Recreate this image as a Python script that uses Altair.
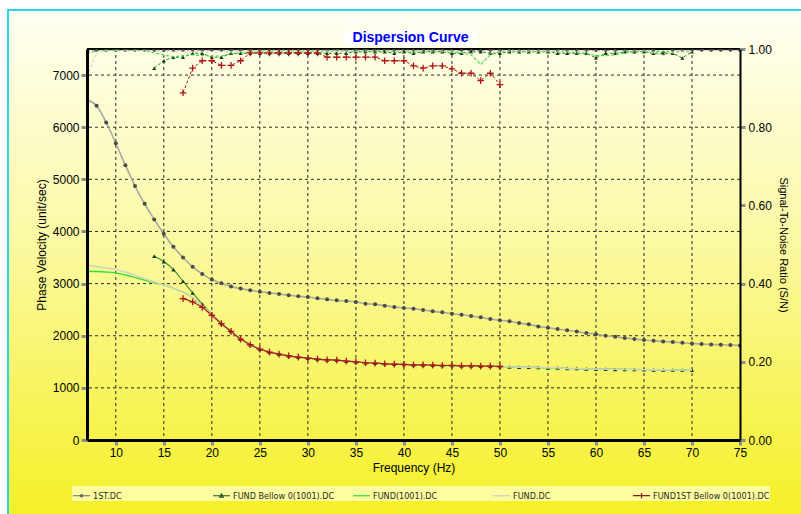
import altair as alt
import pandas as pd

# ---------------- data ----------------
SERIES = [
    "1ST.DC",
    "FUND Bellow 0(1001).DC",
    "FUND(1001).DC",
    "FUND.DC",
    "FUND1ST Bellow 0(1001).DC",
]

# 1ST.DC : 7 .. 75 Hz
FREQ_1ST = list(range(7, 76))
VEL_1ST = [
    6525, 6410, 6090, 5692, 5270, 4871, 4532, 4231, 3955, 3705,   # 7-16
    3500, 3321, 3186, 3077, 3006, 2942, 2904, 2871, 2846, 2821,   # 17-26
    2802, 2775, 2756, 2744, 2717, 2698, 2679, 2665, 2648, 2615,   # 27-36
    2602, 2577, 2552, 2532, 2519, 2494, 2468, 2449, 2423, 2404,   # 37-46
    2378, 2353, 2321, 2295, 2276, 2244, 2218, 2179, 2154, 2128,   # 47-56
    2105, 2080, 2051, 2030, 2000, 1981, 1955, 1936, 1917, 1904,   # 57-66
    1891, 1878, 1865, 1852, 1840, 1833, 1827, 1821, 1815,         # 67-75
]
SNR_1ST = [
    0.994, 0.996, 0.997, 0.997, 0.997, 0.997, 0.997, 0.997, 0.997, 0.997,
    0.997, 0.997, 0.997, 0.997, 0.997, 0.997, 0.997, 0.997, 0.997, 0.997,
    0.997, 0.997, 0.997, 0.997, 0.997, 0.997, 0.997, 0.997, 0.997, 0.997,
    0.997, 0.997, 0.997, 0.997, 0.997, 0.997, 0.997, 0.997, 0.996, 0.996,
    0.996, 0.996, 0.997, 0.997, 0.997, 0.997, 0.997, 0.997, 0.997, 0.997,
    0.997, 0.997, 0.997, 0.996, 0.996, 0.996, 0.996, 0.996, 0.997, 0.997,
    0.992, 0.997, 0.997, 0.997, 0.997, 0.997, 0.997, 0.997, 0.997,
]

# FUND Bellow 0(1001).DC : 14 .. 70 Hz
FREQ_FB = list(range(14, 71))
VEL_FB = [
    3526, 3423, 3269, 3045, 2821, 2609, 2417,                     # 14-20
    2231, 2083, 1936, 1827, 1744, 1686, 1648, 1615, 1590, 1571,   # 21-30
    1552, 1538, 1532, 1513, 1500, 1481, 1474, 1462, 1455, 1449,   # 31-40
    1442, 1442, 1436, 1429, 1429, 1423, 1423, 1417, 1417, 1410,   # 41-50
    1404, 1398, 1398, 1391, 1385, 1385, 1372, 1372, 1365, 1359,   # 51-60
    1359, 1356, 1353, 1353, 1350, 1346, 1346, 1343, 1343, 1340,   # 61-70
]
SNR_FB = [
    0.951, 0.970, 0.979, 0.979, 0.989, 0.989, 0.979,
    0.979, 0.989, 0.989, 0.989, 0.989, 0.989, 0.989, 0.989, 0.989, 0.989,
    0.989, 0.989, 0.989, 0.989, 0.993, 0.993, 0.993, 0.993, 0.989, 0.993,
    0.989, 0.993, 0.993, 0.993, 0.989, 0.989, 0.993, 0.993, 0.989, 0.989,
    0.993, 0.993, 0.993, 0.993, 0.993, 0.989, 0.989, 0.989, 0.989, 0.977,
    0.989, 0.989, 0.993, 0.993, 0.993, 0.989, 0.989, 0.989, 0.977, 0.993,
]

# FUND(1001).DC : 7 .. 70 Hz
FREQ_F1001 = list(range(7, 71))
VEL_F1001 = [
    3237, 3232, 3222, 3205, 3165, 3115, 3065, 3015,               # 7-14
    2980, 2910, 2835, 2730, 2580, 2404,                           # 15-20
    2231, 2083, 1936, 1827, 1744, 1686, 1648, 1615, 1590, 1571,   # 21-30
    1552, 1538, 1532, 1513, 1500, 1484, 1474, 1462, 1457, 1449,   # 31-40
    1442, 1442, 1436, 1429, 1429, 1423, 1423, 1417, 1417, 1410,   # 41-50
    1404, 1398, 1395, 1391, 1385, 1385, 1370, 1370, 1365, 1359,   # 51-60
    1359, 1356, 1353, 1353, 1350, 1346, 1346, 1343, 1343, 1340,   # 61-70
]
SNR_F1001 = [
    0.990, 0.995, 0.996, 0.996,
    0.996, 0.996, 0.996, 0.990, 0.985, 0.980, 0.983, 0.985, 0.983, 0.982,
    0.982, 0.988, 0.990, 0.993, 0.993, 0.993, 0.993, 0.993, 0.993, 0.993,
    0.994, 0.993, 0.995, 0.994, 0.993, 0.993, 0.993, 0.993, 0.993, 0.993,
    0.993, 0.993, 0.993, 0.993, 0.993, 0.990, 0.985, 0.960, 0.985, 0.993,
    0.993, 0.993, 0.993, 0.993, 0.993, 0.993, 0.993, 0.990, 0.988, 0.983,
    0.983, 0.985, 0.990, 0.993, 0.993, 0.993, 0.993, 0.993, 0.993, 0.993,
]

# FUND.DC : 7 .. 70 Hz
FREQ_FUND = list(range(7, 71))
VEL_FUND = [
    3352, 3325, 3298, 3269, 3220, 3160, 3095, 3030,               # 7-14
    2980, 2910, 2835, 2730, 2580, 2404,                           # 15-20
    2231, 2083, 1936, 1827, 1744, 1686, 1648, 1615, 1590, 1571,   # 21-30
    1552, 1538, 1532, 1513, 1500, 1481, 1474, 1462, 1455, 1449,   # 31-40
    1442, 1442, 1436, 1429, 1429, 1423, 1423, 1417, 1417, 1410,   # 41-50
    1404, 1398, 1398, 1391, 1385, 1385, 1372, 1372, 1365, 1359,   # 51-60
    1359, 1356, 1353, 1353, 1350, 1346, 1346, 1343, 1343, 1340,   # 61-70
]
SNR_FUND = [
    0.930, 0.993, 0.996, 0.996,
    0.996, 0.996, 0.996, 0.994, 0.993, 0.993, 0.993, 0.993, 0.993, 0.993,
    0.993, 0.993, 0.994, 0.995, 0.995, 0.995, 0.995, 0.995, 0.995, 0.995,
    0.995, 0.995, 0.995, 0.995, 0.995, 0.995, 0.995, 0.995, 0.995, 0.995,
    0.995, 0.995, 0.995, 0.995, 0.995, 0.993, 0.988, 0.965, 0.988, 0.995,
    0.995, 0.995, 0.995, 0.995, 0.995, 0.995, 0.995, 0.995, 0.995, 0.995,
    0.995, 0.995, 0.995, 0.995, 0.995, 0.990, 0.984, 0.990, 0.995, 0.995,
]

# FUND1ST Bellow 0(1001).DC : 17 .. 50 Hz
FREQ_F1ST = list(range(17, 51))
VEL_F1ST = [
    2712, 2648, 2545, 2391,                                       # 17-20
    2231, 2083, 1936, 1827, 1744, 1686, 1648, 1615, 1590, 1571,   # 21-30
    1552, 1538, 1532, 1513, 1500, 1481, 1474, 1462, 1455, 1449,   # 31-40
    1442, 1442, 1436, 1429, 1429, 1423, 1423, 1417, 1417, 1410,   # 41-50
]
SNR_F1ST = [
    0.888, 0.951, 0.970, 0.970,
    0.958, 0.958, 0.970, 0.990, 0.990, 0.990, 0.990, 0.990, 0.990, 0.990,
    0.990, 0.979, 0.979, 0.979, 0.979, 0.979, 0.979, 0.970, 0.970, 0.970,
    0.957, 0.951, 0.957, 0.957, 0.949, 0.938, 0.938, 0.919, 0.938, 0.909,
]

X_TICKS = list(range(10, 76, 5))
V_TICKS = list(range(0, 7001, 1000))
S_TICKS = [0.0, 0.2, 0.4, 0.6, 0.8, 1.0]

# ---------------- layout / style ----------------
W, H = 653, 391
PAD = {"left": 87, "top": 49, "right": 61, "bottom": 74}
X_DOMAIN = [7, 75]
V_DOMAIN = [0, 7500]
S_DOMAIN = [0, 1]

FONT = "Liberation Sans, Arial, Helvetica, sans-serif"
LEG_FONT = "DejaVu Sans Condensed, DejaVu Sans, sans-serif"

C_1ST_LINE, C_1ST_DOT = "#a8a8a0", "#4a4a4a"
C_FB_LINE, C_FB_MARK = "#3c8f30", "#123f12"
C_F1001 = "#30e030"
C_FUND = "#d4d4be"
C_F1ST_LINE, C_F1ST_MARK = "#a3241f", "#b01414"

LEG_COLORS = ["#6a6a6a", "#1e5a1e", "#33dd33", "#cfcfbf", "#8e1a1a"]
LEG_PATHS = [
    "M-1,0H1M-0.14,0A0.14,0.14,0,1,1,0.14,0A0.14,0.14,0,1,1,-0.14,0Z",
    "M-1,0H1M-0.2,0.16L0,-0.2L0.2,0.16Z",
    "M-1,0H1",
    "M-1,0H1",
    "M-1,0H1M0,-0.32V0.32",
]
PLUS = "M-1,0H1M0,-1V1"

x_scale = alt.Scale(domain=X_DOMAIN, nice=False, zero=False)
v_scale = alt.Scale(domain=V_DOMAIN, nice=False)
s_scale = alt.Scale(domain=S_DOMAIN, nice=False)

common_axis = dict(
    grid=False, zindex=1, labelFont=FONT, titleFont=FONT, labelColor="black",
    titleColor="black", titleFontWeight="normal", tickColor="#8c8c8c",
    tickWidth=3, domainColor="black",
)
x_axis = alt.Axis(values=X_TICKS, title="Frequency (Hz)", labelFontSize=12,
                  titleFontSize=12, tickSize=5, labelPadding=2, titlePadding=4,
                  domainWidth=3, labelFlush=False, labelOverlap=False, **common_axis)
v_axis = alt.Axis(values=V_TICKS, format="d", title="Phase Velocity (unit/sec)",
                  labelFontSize=12, titleFontSize=12, tickSize=6, labelPadding=2,
                  titlePadding=4, domainWidth=3, **common_axis)
s_axis = alt.Axis(orient="right", values=S_TICKS, format=".2f",
                  title="Signal-To-Noise Ratio (S/N)", labelFontSize=12,
                  titleFontSize=11, tickSize=5, labelPadding=3, titlePadding=6,
                  domainWidth=2, **common_axis)

# every layer carries the same axis definition so the shared axes merge cleanly


def frame(freq, values):
    return pd.DataFrame({"freq": freq, "val": values})


def enc_x(field="freq"):
    return alt.X(f"{field}:Q", scale=x_scale, axis=x_axis)


def enc_v(field="val"):
    return alt.Y(f"{field}:Q", scale=v_scale, axis=v_axis)


def enc_s(field="val"):
    return alt.Y(f"{field}:Q", scale=s_scale, axis=s_axis)


def line(df, color, width, y, dash=None, interp="monotone"):
    kw = dict(color=color, strokeWidth=width, interpolate=interp, clip=True)
    if dash:
        kw["strokeDash"] = dash
    return alt.Chart(df).mark_line(**kw).encode(x=enc_x(), y=y)


def points(df, shape, color, size, y, filled=True, sw=1):
    return alt.Chart(df).mark_point(
        shape=shape, filled=filled, color=color, size=size, strokeWidth=sw,
        opacity=1, clip=True,
    ).encode(x=enc_x(), y=y)


# ---------------- backdrop / grid ----------------
one = pd.DataFrame({"k": [0]})
backdrop = alt.Chart(one).mark_rect(
    fill=alt.Gradient(
        gradient="linear", x1=0, y1=0, x2=0, y2=1,
        stops=[alt.GradientStop(offset=0, color="#fffff4"),
               alt.GradientStop(offset=0.45, color="#fbf9a0"),
               alt.GradientStop(offset=1, color="#f4ef1c")],
    ),
    stroke="#2dd4e4", strokeWidth=2,
).encode(x=alt.value(-79), x2=alt.value(740), y=alt.value(-39), y2=alt.value(490))

title_box = alt.Chart(one).mark_rect(fill="white").encode(
    x=alt.value(257), x2=alt.value(389), y=alt.value(-18), y2=alt.value(-3)
)

grid_x = alt.Chart(pd.DataFrame({"tick": [t for t in X_TICKS if t < X_DOMAIN[1]]})).mark_rule(
    color="#2b2b2b", strokeDash=[3, 3], strokeWidth=1
).encode(x=enc_x("tick"))

grid_y = alt.Chart(pd.DataFrame({"tick": [t for t in V_TICKS if t > 0]})).mark_rule(
    color="#2b2b2b", strokeDash=[3, 3], strokeWidth=1
).encode(y=enc_v("tick"))

top_edge = alt.Chart(pd.DataFrame({"tick": [V_DOMAIN[1]]})).mark_rule(
    color="black", strokeWidth=2
).encode(y=enc_v("tick"))

# ---------------- velocity curves ----------------
d1 = frame(FREQ_1ST, VEL_1ST)
dfb = frame(FREQ_FB, VEL_FB)
df1001 = frame(FREQ_F1001, VEL_F1001)
dfund = frame(FREQ_FUND, VEL_FUND)
df1st = frame(FREQ_F1ST, VEL_F1ST)

vel_1st_line = line(d1, C_1ST_LINE, 1.6, enc_v())
vel_1st_dots = points(d1, "circle", C_1ST_DOT, 16, enc_v())
vel_fb_line = line(dfb, C_FB_LINE, 1.1, enc_v())
vel_fb_tri = points(dfb, "triangle-up", C_FB_MARK, 18, enc_v())
vel_f1001 = line(df1001, C_F1001, 1.3, enc_v())
vel_fund = line(dfund, C_FUND, 1.6, enc_v())
vel_f1st_line = line(df1st, C_F1ST_LINE, 1.2, enc_v())
vel_f1st_plus = points(df1st, PLUS, C_F1ST_MARK, 44, enc_v(), filled=False, sw=1.3)

# ---------------- legend carrier ----------------
legend = alt.Legend(
    title=None, orient="none", legendX=-15, legendY=437, direction="horizontal",
    columns=5, gridAlign="all", fillColor="#fdfc9e", padding=0, columnPadding=0,
    symbolSize=289, symbolStrokeWidth=1.2, symbolOpacity=1,
    labelFont=LEG_FONT, labelFontSize=9, labelColor="#2a2a2a", labelOffset=2,
)
legend_layer = alt.Chart(pd.DataFrame({"series": SERIES})).mark_point(
    filled=False, opacity=0, strokeWidth=1.2
).encode(
    color=alt.Color("series:N", scale=alt.Scale(domain=SERIES, range=LEG_COLORS),
                    legend=legend, sort=SERIES),
    shape=alt.Shape("series:N", scale=alt.Scale(domain=SERIES, range=LEG_PATHS),
                    legend=legend, sort=SERIES),
)

velocity = alt.layer(
    backdrop, title_box, grid_x, grid_y, top_edge,
    vel_1st_line, vel_1st_dots, vel_fb_line, vel_fb_tri,
    vel_f1001, vel_fund, vel_f1st_line, vel_f1st_plus, legend_layer,
)

# ---------------- signal-to-noise curves ----------------
s1 = frame(FREQ_1ST, SNR_1ST)
sfb = frame(FREQ_FB, SNR_FB)
s1001 = frame(FREQ_F1001, SNR_F1001)
sfund = frame(FREQ_FUND, SNR_FUND)
s1st = frame(FREQ_F1ST, SNR_F1ST)

sn_1st_line = line(s1, "#9c9c9c", 1, enc_s(), dash=[3, 2], interp="linear")
sn_1st_dots = points(s1, "circle", C_1ST_DOT, 10, enc_s())
sn_fb_line = line(sfb, "#2f7a2f", 1, enc_s(), dash=[3, 2], interp="linear")
sn_fb_tri = points(sfb, "triangle-up", C_FB_MARK, 16, enc_s())
sn_f1001 = line(s1001, "#3ce03c", 1.1, enc_s(), dash=[3, 2], interp="linear")
sn_fund = line(sfund, "#cfcfbd", 1, enc_s(), dash=[3, 2], interp="linear")
sn_f1st_line = line(s1st, C_F1ST_LINE, 1, enc_s(), dash=[3, 2], interp="linear")
sn_f1st_plus = points(s1st, PLUS, C_F1ST_MARK, 44, enc_s(), filled=False, sw=1.3)

snr = alt.layer(
    sn_1st_line, sn_1st_dots, sn_fb_line, sn_fb_tri,
    sn_f1001, sn_fund, sn_f1st_line, sn_f1st_plus,
)

chart = (
    alt.layer(velocity, snr)
    .resolve_scale(y="independent")
    .properties(
        width=W, height=H, padding=PAD,
        autosize=alt.AutoSizeParams(type="none"),
        background="white",
        title=alt.TitleParams(
            "Dispersion Curve", color="#0000ee", font=FONT, fontSize=14,
            fontWeight="bold", anchor="middle", frame="group", offset=-36, dx=-3,
        ),
    )
    .configure_view(stroke=None)
)

chart.save("out.html", embed_options={"renderer": "svg", "actions": False})
